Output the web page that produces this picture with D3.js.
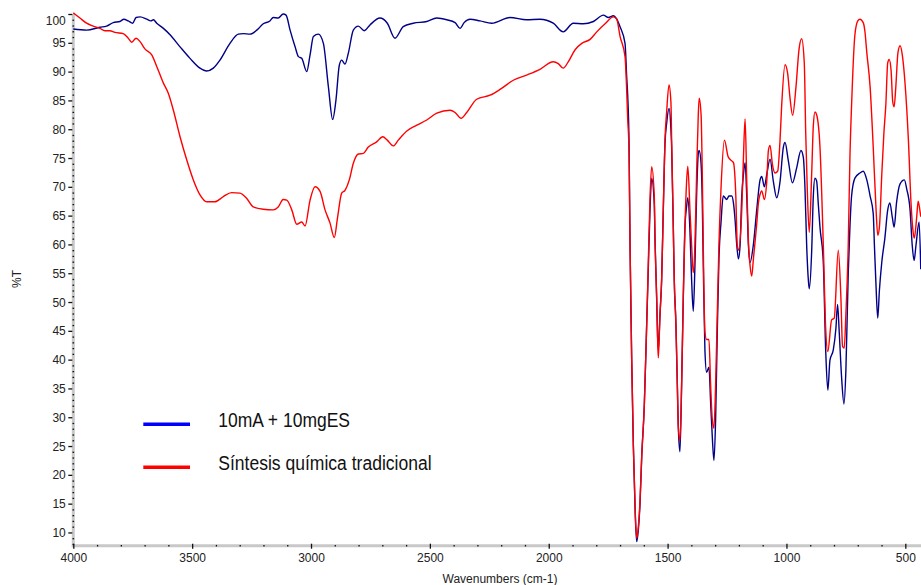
<!DOCTYPE html>
<html>
<head>
<meta charset="utf-8">
<script src="https://cdn.jsdelivr.net/npm/d3@7"></script>
<style>
  html, body { margin: 0; padding: 0; background: #fff; }
  svg { display: block; font-family: "Liberation Sans", Arial, sans-serif; }
</style>
</head>
<body>
<svg id="chart" width="921" height="585"></svg>
<script>
// [wavenumber (cm-1), %T]
var blueSpectrum = [[4000,97.4],[3944,97.2],[3888,97.7],[3860,97.9],[3832,98.5],[3804,98.7],[3787,99.1],[3769,98.8],[3750,98.4],[3736,99.4],[3719,99.5],[3691,99.1],[3674,98.8],[3663,99.0],[3649,98.4],[3621,97.5],[3593,96.4],[3551,94.3],[3509,92.3],[3467,90.6],[3439,90.1],[3411,90.6],[3383,92.0],[3341,94.9],[3306,96.5],[3285,96.6],[3257,96.5],[3228,97.2],[3201,98.3],[3173,98.8],[3159,99.4],[3138,99.3],[3117,100.0],[3105,99.8],[3088,97.2],[3067,94.3],[3053,92.6],[3039,92.3],[3018,90.0],[3004,92.9],[2990,96.1],[2969,96.5],[2948,94.9],[2927,87.4],[2909,81.7],[2895,85.1],[2881,91.1],[2871,92.0],[2857,91.3],[2843,93.2],[2822,97.2],[2801,97.9],[2776,97.1],[2752,98.1],[2710,99.3],[2679,98.4],[2647,95.8],[2612,97.8],[2570,98.4],[2513,98.7],[2471,99.3],[2429,99.0],[2394,98.5],[2373,97.5],[2356,98.5],[2331,99.1],[2289,98.8],[2240,98.4],[2163,99.4],[2093,99.0],[2037,99.1],[1981,98.4],[1939,96.9],[1897,98.4],[1855,98.3],[1812,98.7],[1770,99.8],[1749,99.4],[1728,99.7],[1715,99.2],[1700,97.8],[1679,94.9],[1672,89],[1668,86],[1662,77],[1658,60],[1651,40],[1644,25],[1636,13],[1630,8.4],[1623,10.5],[1616,15],[1609,23],[1598,32],[1588,46],[1581,56],[1574,66],[1567,71.5],[1556,67],[1553,61],[1546,50.8],[1542,44],[1539,41.7],[1532,47.8],[1525,53.9],[1518,66.2],[1511,77.5],[1504,81],[1494,83.6],[1486,80],[1483,77],[1476,63],[1472,53.9],[1465,46.2],[1459,35.6],[1455,28.4],[1448,24],[1441,35.6],[1434,50.8],[1427,63],[1420,66.6],[1415,68.1],[1406,62.4],[1399,53.9],[1392,48.4],[1385,56.3],[1378,68.4],[1371,75.7],[1367,76.3],[1359,73.9],[1354,67.2],[1350,56.9],[1343,41.7],[1336,37.8],[1326,38.7],[1319,32.6],[1312,26.6],[1305,22.5],[1298,29.6],[1291,44.8],[1284,57.5],[1275,64],[1266,68.4],[1251,67.8],[1242,68.4],[1230,68.4],[1223,67.2],[1216,64.2],[1209,59.9],[1202,57.5],[1195,59.9],[1188,68.4],[1181,72.1],[1174,74.2],[1167,68.4],[1160,59.9],[1153,56.9],[1139,60],[1125,66],[1111,71.2],[1104,71.8],[1093,70],[1083,72.1],[1069,74.8],[1055,70.9],[1041,68.1],[1027,70.9],[1013,76.9],[1006,77.7],[992,74.5],[975,70.7],[957,73.3],[939,76.3],[929,75.1],[922,69.7],[915,59.9],[908,53.9],[904,52.3],[894,58.7],[887,68.4],[880,71.5],[873,71],[866,67],[859,63],[845,56.9],[835,41.7],[826,34.7],[817,39.9],[803,41.7],[792,45.4],[785,49.6],[778,44.8],[768,36.9],[758,32.3],[750,38.1],[740,55.1],[733,63],[726,68.4],[712,71.5],[691,72.4],[677,72.7],[662,71.2],[648,68.4],[635,65.4],[630,59.9],[623,52.6],[616,47.2],[609,52],[599,56.9],[586,61.1],[574,66],[565,67.2],[555,64.8],[547,63],[537,67.2],[522,70.5],[504,71.2],[494,69.6],[480,66],[471,59.9],[463,57.2],[455,59.9],[442,63.9],[435,55.7]];

var redSpectrum = [[4000,100.2],[3972,99.3],[3944,98.4],[3916,97.9],[3888,97.5],[3867,97.1],[3846,97.1],[3825,96.8],[3790,96.6],[3769,95.8],[3754,95.1],[3736,95.8],[3719,95.2],[3698,93.9],[3670,92.9],[3649,90.9],[3621,88.0],[3600,86.2],[3579,83.3],[3551,78.7],[3523,74.7],[3495,71.2],[3467,68.6],[3439,67.4],[3404,67.4],[3369,68.3],[3334,69.0],[3299,68.9],[3271,68.0],[3243,66.5],[3201,66.1],[3159,66.0],[3138,66.5],[3117,67.8],[3102,67.7],[3081,66.0],[3060,63.5],[3039,63.9],[3025,63.2],[3004,67.7],[2983,70.0],[2962,69.2],[2941,66.0],[2920,63.7],[2902,61.2],[2888,64.8],[2871,68.9],[2857,69.4],[2839,71.2],[2822,74.1],[2801,75.7],[2780,75.8],[2759,76.9],[2724,77.8],[2698,78.7],[2679,78.1],[2654,77.1],[2633,78.1],[2597,79.7],[2555,80.7],[2513,81.6],[2471,82.8],[2415,83.3],[2394,82.9],[2369,81.9],[2345,82.9],[2303,85.2],[2247,85.9],[2205,86.9],[2149,88.5],[2093,89.4],[2037,90.4],[1981,91.7],[1960,91.4],[1939,90.6],[1918,91.7],[1889,93.8],[1861,94.9],[1826,95.6],[1798,96.9],[1763,98.3],[1728,99.5],[1714,99.1],[1700,96.1],[1679,92.6],[1672,86.7],[1668,82],[1662,76],[1658,60],[1651,40],[1644,25],[1636,13.5],[1630,9],[1623,11],[1616,15.5],[1609,23],[1598,32],[1588,46],[1581,57],[1574,68],[1567,73.5],[1556,68.4],[1553,61.1],[1546,50.8],[1542,43.6],[1539,40.3],[1532,47.8],[1525,53.9],[1518,66.2],[1511,78.1],[1504,83],[1494,87.7],[1486,84.7],[1483,78.1],[1476,63],[1472,53.9],[1465,46.2],[1459,35.6],[1455,28.4],[1448,25.9],[1441,35.6],[1434,50.8],[1427,63],[1420,70.9],[1415,73.6],[1406,66],[1399,59.9],[1392,55.1],[1385,59.9],[1378,72.1],[1371,82.4],[1367,85.4],[1359,82.4],[1354,72.1],[1350,59.9],[1343,44.8],[1336,43.5],[1326,43.5],[1319,35.6],[1312,29.6],[1305,28.1],[1298,35.6],[1291,47.8],[1284,59.9],[1275,70],[1261,78.1],[1245,75.2],[1230,74.5],[1223,74.2],[1213,68.4],[1207,59.9],[1202,59],[1188,66],[1181,75],[1174,81.8],[1167,70.9],[1160,60.5],[1153,56.3],[1146,54.5],[1139,57.5],[1125,63.6],[1118,67.2],[1111,68.7],[1104,69.3],[1093,67.8],[1083,70.9],[1076,76.3],[1069,77.2],[1059,73.9],[1048,72.4],[1037,72.7],[1027,78.1],[1020,84.2],[1006,91.2],[995,89.7],[985,85.4],[974,82.4],[960,87.3],[947,93.9],[936,95.7],[925,91.5],[919,79.4],[912,69],[904,62.1],[894,72.1],[887,80.6],[880,83],[873,82.5],[859,76.9],[845,59.9],[835,45.4],[826,41.4],[810,46.9],[799,47.2],[782,59],[771,50.8],[764,42.3],[757,42],[750,47.8],[740,59.9],[733,75.1],[726,84.2],[712,96.4],[700,98.8],[691,99.1],[677,98.5],[670,97],[662,93.3],[648,87.3],[635,76.9],[623,66],[616,61.6],[609,63],[599,72.1],[590,79.4],[582,84.2],[574,91.5],[568,92.1],[560,90.3],[553,84.8],[547,83.9],[540,87.3],[531,93.3],[522,94.5],[512,92.7],[501,87.9],[487,78.1],[476,67.2],[466,61.8],[462,61.1],[452,64.8],[446,67.5],[439,66],[435,64.8]];

var xMajorTicks = [4000, 3500, 3000, 2500, 2000, 1500, 1000, 500];
var yMajorTicks = [10, 15, 20, 25, 30, 35, 40, 45, 50, 55, 60, 65, 70, 75, 80, 85, 90, 95, 100];
var seriesNames = ["10mA + 10mgES", "Síntesis química tradicional"];
var seriesColors = ["#000088", "#ff0000"];
var legendColors = ["#0000ff", "#ff0000"];

var svg = d3.select("#chart");
var plotLeft = 73.3, plotRight = 921, plotTop = 14, plotBottom = 545.7;

var x = d3.scaleLinear().domain([4000, 434]).range([plotLeft, plotRight]);
var y = d3.scaleLinear().domain([7.7, 100]).range([plotBottom, plotTop]);

svg.append("rect").attr("width", 921).attr("height", 585).attr("fill", "#fff");

// grey axis bands
svg.append("line").attr("x1", plotLeft).attr("x2", plotLeft).attr("y1", plotTop).attr("y2", plotBottom + 1.5)
  .attr("stroke", "#c8c8c8").attr("stroke-width", 3);
svg.append("line").attr("x1", plotLeft - 1.5).attr("x2", plotRight).attr("y1", plotBottom).attr("y2", plotBottom)
  .attr("stroke", "#c8c8c8").attr("stroke-width", 3);

// minor ticks (dots on the bands)
var xMinor = d3.range(4000, 433, -100).filter(function (d) { return d % 500 != 0; });
var yMinor = d3.range(8, 101, 1).filter(function (d) { return d % 5 != 0; });

svg.append("g").attr("transform", "translate(0," + (plotBottom - 0.8) + ")")
  .call(d3.axisBottom(x).tickValues(xMinor).tickSize(1.6).tickFormat(""))
  .call(function (g) { g.select(".domain").remove(); })
  .selectAll("line").attr("stroke", "#111").attr("stroke-width", 1.3);

svg.append("g").attr("transform", "translate(" + (plotLeft + 0.8) + ",0)")
  .call(d3.axisLeft(y).tickValues(yMinor).tickSize(1.6).tickFormat(""))
  .call(function (g) { g.select(".domain").remove(); })
  .selectAll("line").attr("stroke", "#111").attr("stroke-width", 1.3);

// major ticks + labels
var xAxis = svg.append("g").attr("transform", "translate(0," + (plotBottom - 2) + ")")
  .call(d3.axisBottom(x).tickValues(xMajorTicks).tickSize(5).tickPadding(5).tickFormat(d3.format("d")));
xAxis.select(".domain").remove();
xAxis.selectAll("line").attr("stroke", "#111").attr("stroke-width", 1.3);
xAxis.selectAll("text").attr("font-size", 12).attr("fill", "#222")
  .attr("font-family", "Liberation Sans, Arial, sans-serif");

var yAxis = svg.append("g").attr("transform", "translate(" + (plotLeft - 1) + ",0)")
  .call(d3.axisLeft(y).tickValues(yMajorTicks).tickSize(4).tickPadding(2.5).tickFormat(d3.format("d")));
yAxis.select(".domain").remove();
yAxis.selectAll("line").attr("stroke", "#111").attr("stroke-width", 1.3);
yAxis.selectAll("text").attr("font-size", 12).attr("fill", "#222")
  .attr("font-family", "Liberation Sans, Arial, sans-serif")
  .attr("dy", function (d) { return d == 100 ? "0.9em" : "0.34em"; });

// axis titles
svg.append("text").attr("x", 500).attr("y", 583).attr("text-anchor", "middle")
  .attr("font-size", 12).attr("fill", "#222").text("Wavenumbers (cm-1)");
svg.append("text").attr("transform", "translate(21,279) rotate(-90)").attr("text-anchor", "middle")
  .attr("font-size", 12).attr("fill", "#222").text("%T");

// spectra
var line = d3.line()
  .x(function (d) { return x(d[0]); })
  .y(function (d) { return y(d[1]); })
  .curve(d3.curveMonotoneX);

[blueSpectrum, redSpectrum].forEach(function (s, i) {
  svg.append("path").datum(s)
    .attr("d", line)
    .attr("fill", "none")
    .attr("stroke", seriesColors[i])
    .attr("stroke-width", 1.4)
    .attr("stroke-linejoin", "round");
});

// legend
var legendRows = [{ y: 424.3, base: 426.7, len: 131.7 }, { y: 467.3, base: 470, len: 213.3 }];
legendRows.forEach(function (r, i) {
  svg.append("line").attr("x1", 143.3).attr("x2", 190).attr("y1", r.y).attr("y2", r.y)
    .attr("stroke", legendColors[i]).attr("stroke-width", 3.5);
  svg.append("text").attr("x", 218.3).attr("y", r.base)
    .attr("font-size", 20).attr("fill", "#111")
    .attr("textLength", r.len).attr("lengthAdjust", "spacingAndGlyphs")
    .text(seriesNames[i]);
});
</script>
</body>
</html>
